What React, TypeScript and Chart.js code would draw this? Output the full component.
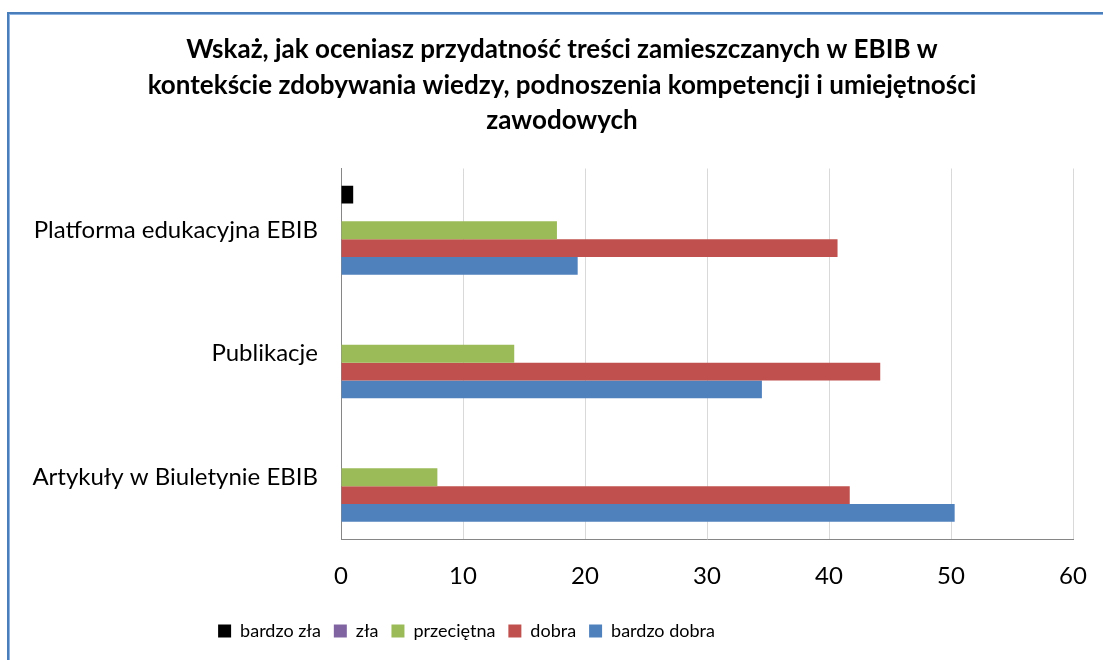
import React, { useEffect, useRef } from 'react';
import { Chart, registerables } from 'chart.js';

Chart.register(...registerables);

const categories = ['Platforma edukacyjna EBIB', 'Publikacje', 'Artykuły w Biuletynie EBIB'];
const seriesNames = ['bardzo zła', 'zła', 'przeciętna', 'dobra', 'bardzo dobra'];
const bardzoZla = [1, 0, 0];
const zla = [0, 0, 0];
const przecietna = [17.7, 14.2, 7.9];
const dobra = [40.7, 44.2, 41.7];
const bardzoDobra = [19.4, 34.5, 50.3];
const seriesColors = ['#000000', '#8064A2', '#9BBB59', '#C0504D', '#4F81BD'];
const titleLines = [
  'Wskaż, jak oceniasz przydatność treści zamieszczanych w EBIB w',
  'kontekście zdobywania wiedzy, podnoszenia kompetencji i umiejętności',
  'zawodowych',
];
const xMin = 0;
const xMax = 60;
const xStep = 10;

const FONT = 'Lato, "Open Sans", sans-serif';

const boxShift = {
  id: 'boxShift',
  afterLayout(chart: any) {
    const lg = chart.legend;
    if (lg) {
      lg.left -= 70;
      lg.right -= 70;
    }
    const tb = chart.titleBlock;
    if (tb) {
      tb.left += 25.5;
      tb.right += 25.5;
    }
  },
};

export default function App() {
  const canvasRef = useRef<HTMLCanvasElement | null>(null);

  useEffect(() => {
    const canvas = canvasRef.current;
    if (!canvas) return;
    const values = [bardzoZla, zla, przecietna, dobra, bardzoDobra];
    const chart = new Chart(canvas, {
      type: 'bar',
      data: {
        labels: categories,
        datasets: seriesNames.map((name, i) => ({
          label: name,
          data: values[i],
          backgroundColor: seriesColors[i],
          borderWidth: 0,
          categoryPercentage: 0.72,
          barPercentage: 1,
        })),
      },
      plugins: [boxShift],
      options: {
        indexAxis: 'y',
        responsive: false,
        animation: false,
        layout: { padding: { left: 0, right: 30, top: 0, bottom: 10 } },
        scales: {
          x: {
            min: xMin,
            max: xMax,
            ticks: {
              stepSize: xStep,
              padding: 23,
              color: '#000',
              font: { family: FONT, size: 24 },
            },
            grid: { color: '#D9D9D9', lineWidth: 1, drawTicks: false },
            border: { display: true, color: '#868686', width: 1 },
            afterFit: (scale: any) => {
              scale.height = 70;
              scale.paddingLeft = 0;
              scale.paddingRight = 0;
            },
          },
          y: {
            ticks: {
              padding: 23,
              color: '#000',
              font: { family: FONT, size: 24 },
            },
            grid: { display: false, drawTicks: false },
            border: { display: true, color: '#868686', width: 1 },
            afterFit: (scale: any) => {
              scale.width = 341;
            },
          },
        },
        plugins: {
          title: {
            display: true,
            text: titleLines,
            color: '#000',
            font: { family: FONT, size: 26, weight: 'bold', lineHeight: '35.5px' },
            padding: { top: 32, bottom: 30 },
          },
          legend: {
            display: true,
            position: 'bottom',
            labels: {
              boxWidth: 13,
              boxHeight: 13,
              padding: 13,
              color: '#000',
              font: { family: FONT, size: 18 },
            },
          },
          tooltip: { enabled: false },
        },
      },
    } as any);
    return () => chart.destroy();
  }, []);

  return (
    <div style={{ position: 'absolute', left: 0, top: 0, width: 1103, height: 660, overflow: 'hidden', background: '#fff' }}>
      <div
        style={{
          position: 'absolute',
          left: 7,
          top: 12,
          width: 1200,
          height: 700,
          borderLeft: '2px solid #4A7EBB',
          borderTop: '2px solid #4A7EBB',
          boxShadow: 'inset 1px 1px 0 #8EB4E3',
        }}
      />
      <canvas ref={canvasRef} width={1103} height={660} style={{ position: 'absolute', left: 0, top: 0 }} />
    </div>
  );
}
